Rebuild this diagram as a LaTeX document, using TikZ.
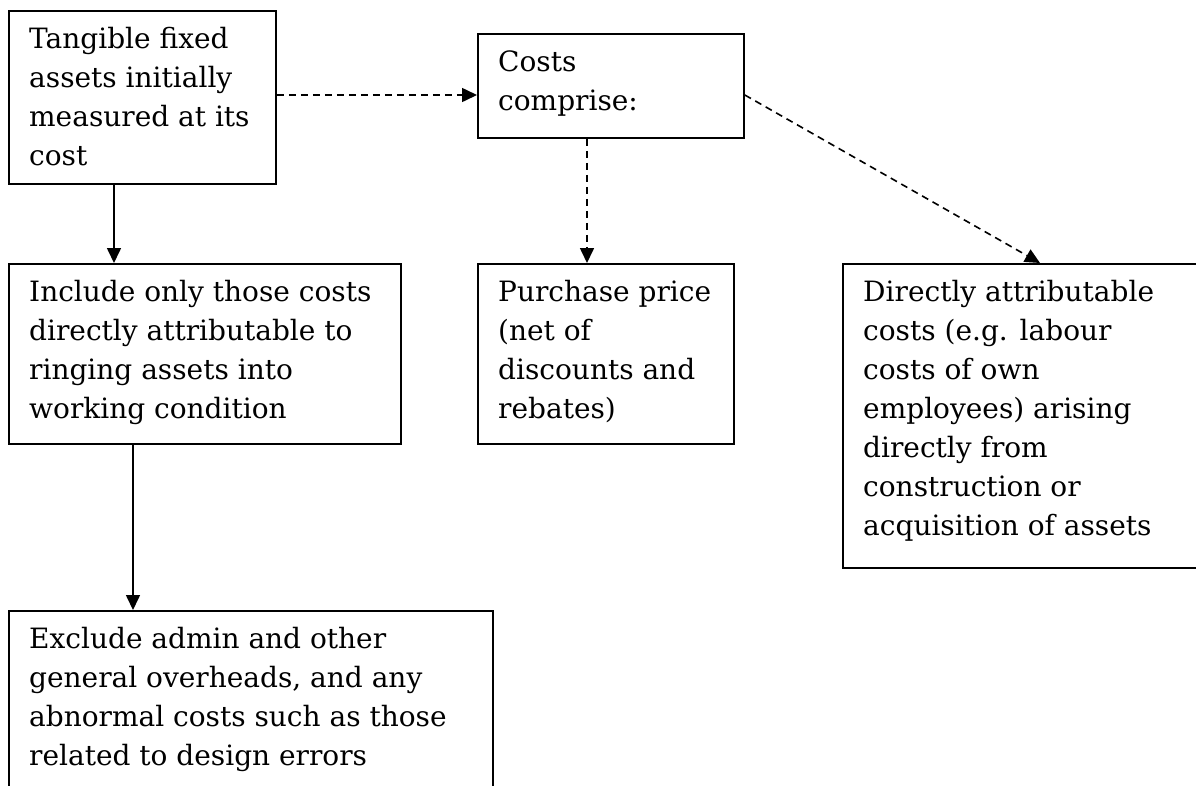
\documentclass[tikz,border=0pt]{standalone}
\usepackage{fontspec}
\setmainfont{DejaVu Serif}
\usetikzlibrary{arrows.meta,calc}
\newcommand{\bxtext}[2]{\parbox[t]{#1pt}{\raggedright\fontsize{28}{39}\selectfont #2}}
\tikzset{
  boxshape/.style={draw, line width=1.8pt, rectangle, inner sep=0pt, anchor=north west},
  boxlabel/.style={anchor=base west, inner sep=0pt},
  solidarrow/.style={line width=1.6pt, -{Triangle[width=14pt,length=15pt]}},
  dasharrow/.style={line width=1.6pt, dash pattern=on 7pt off 5pt, -{Triangle[width=14pt,length=15pt]}}
}
\begin{document}
\begin{tikzpicture}[x=1pt,y=1pt]
\clip (0,0) rectangle (1196,-785);
\fill[white] (0,0) rectangle (1196,-785);
% boxes
\node[boxshape, minimum width=267pt, minimum height=173pt] (A) at (8,-10) {};
\node[boxshape, minimum width=266pt, minimum height=104pt] (B) at (477,-33) {};
\node[boxshape, minimum width=392pt, minimum height=180pt] (C) at (8,-263) {};
\node[boxshape, minimum width=256pt, minimum height=180pt] (D) at (477,-263) {};
\node[boxshape, minimum width=420pt, minimum height=304pt] (E) at (842,-263) {};
\node[boxshape, minimum width=484pt, minimum height=220pt] (F) at (8,-610) {};
% texts
\node[boxlabel] (At) at ($(A.north west)+(21,-38.5)$) {\bxtext{300}{Tangible fixed\\assets initially\\measured at its\\cost}};
\node[boxlabel] (Bt) at ($(B.north west)+(21,-38.5)$) {\bxtext{260}{Costs\\comprise:}};
\node[boxlabel] (Ct) at ($(C.north west)+(21,-38.5)$) {\bxtext{420}{Include only those costs\\directly attributable to\\ringing assets into\\working condition}};
\node[boxlabel] (Dt) at ($(D.north west)+(21,-38.5)$) {\bxtext{260}{Purchase price\\(net of\\discounts and\\rebates)}};
\node[boxlabel] (Et) at ($(E.north west)+(21,-38.5)$) {\bxtext{360}{Directly attributable\\costs (e.g. labour\\costs of own\\employees) arising\\directly from\\construction or\\acquisition of assets}};
\node[boxlabel] (Ft) at ($(F.north west)+(21,-38.5)$) {\bxtext{500}{Exclude admin and other\\general overheads, and any\\abnormal costs such as those\\related to design errors}};
% connectors
\draw[dasharrow] ($(A.north east)+(0,-85)$) -- ($(B.north west)+(0,-62)$);
\draw[solidarrow] ($(A.south west)+(106,0)$) -- ($(C.north west)+(106,0)$);
\draw[solidarrow] ($(C.south west)+(125,0)$) -- ($(F.north west)+(125,0)$);
\draw[dasharrow] ($(B.south west)+(110,0)$) -- ($(D.north west)+(110,0)$);
\draw[dasharrow] ($(B.north east)+(0,-62)$) -- ($(E.north west)+(198,0)$);
\end{tikzpicture}
\end{document}
